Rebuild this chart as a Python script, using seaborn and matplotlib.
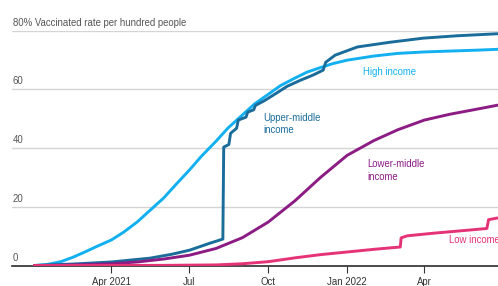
import matplotlib
matplotlib.use("Agg")
import matplotlib.pyplot as plt
import matplotlib.transforms as mtrans
from matplotlib import font_manager
import seaborn as sns
import pandas as pd

# ---- data ----
high_dates = ["2021-01-01", "2021-01-15", "2021-02-01", "2021-02-15", "2021-03-01", "2021-03-15",
              "2021-04-01", "2021-04-15", "2021-05-01", "2021-05-15", "2021-06-01", "2021-06-15",
              "2021-07-01", "2021-07-15", "2021-08-01", "2021-08-15", "2021-09-01", "2021-09-15",
              "2021-10-01", "2021-10-15", "2021-11-01", "2021-11-15", "2021-12-01", "2021-12-15",
              "2022-01-01", "2022-02-01", "2022-03-01", "2022-04-01", "2022-05-01", "2022-06-01",
              "2022-06-26"]
high_vals = [0, 0.3, 1.3, 2.8, 4.6, 6.5, 8.7, 11.3, 14.8, 18.5, 23, 27.5, 32.5, 37.2, 42.3,
             46.8, 51.3, 55, 58.3, 61.2, 63.8, 65.8, 67.4, 68.7, 69.9, 71.3, 72.2, 72.7, 73,
             73.3, 73.6]

upper_dates = ["2021-01-01", "2021-02-15", "2021-04-01", "2021-05-16", "2021-06-10", "2021-07-01",
               "2021-07-25", "2021-08-09", "2021-08-10", "2021-08-16", "2021-08-18", "2021-08-25",
               "2021-08-27", "2021-09-05", "2021-09-07", "2021-09-14", "2021-09-16", "2021-09-27",
               "2021-10-15", "2021-10-23", "2021-11-07", "2021-11-22", "2021-12-04", "2021-12-07",
               "2021-12-18", "2022-01-13", "2022-02-20", "2022-03-31", "2022-05-09", "2022-06-26"]
upper_vals = [0, 0.5, 1.2, 2.5, 3.8, 5.2, 7.6, 9, 40.3, 41.2, 45, 46.7, 49.5, 50.5, 52.2, 53,
              54.5, 56.2, 59.5, 61, 63, 64.8, 66.5, 69.2, 71.6, 74.4, 76, 77.4, 78.2, 78.9]

lower_dates = ["2021-01-01", "2021-02-01", "2021-03-01", "2021-04-01", "2021-05-01", "2021-06-01",
               "2021-07-01", "2021-08-01", "2021-09-01", "2021-10-01", "2021-11-01", "2021-12-01",
               "2022-01-01", "2022-02-01", "2022-03-01", "2022-04-01", "2022-05-01", "2022-06-01",
               "2022-06-26"]
lower_vals = [0, 0.1, 0.3, 0.6, 1.2, 2.2, 3.5, 5.8, 9.5, 14.8, 22, 30, 37.5, 42.5, 46.2, 49.5,
              51.5, 53.2, 54.6]

low_dates = ["2021-01-01", "2021-06-01", "2021-08-01", "2021-09-01", "2021-10-01", "2021-11-01",
             "2021-12-01", "2022-01-01", "2022-02-01", "2022-03-04", "2022-03-05", "2022-03-12",
             "2022-04-12", "2022-05-21", "2022-06-13", "2022-06-15", "2022-06-26"]
low_vals = [0, 0.05, 0.2, 0.6, 1.3, 2.6, 3.7, 4.6, 5.5, 6.3, 9.4, 10.1, 11, 12, 12.6, 15.6, 16.2]

y_ticks = [0, 20, 40, 60, 80]
y_labels = ["0", "20", "40", "60", "80% Vaccinated rate per hundred people"]
x_ticks = ["2021-04-01", "2021-07-01", "2021-10-01", "2022-01-01", "2022-04-01"]
x_labels = ["Apr 2021", "Jul", "Oct", "Jan 2022", "Apr"]

series_names = ["High income", "Upper-middle\nincome", "Lower-middle\nincome", "Low income"]
colors = ["#12b0f0", "#1a6d9b", "#8c1b84", "#e63277"]

# ---- plot ----
sns.set_theme(style="white")

# prefer a condensed face if one is installed
try:
    font_manager.findfont(font_manager.FontProperties(family="Liberation Sans Narrow"),
                          fallback_to_default=False)
    fam, fs = ["Liberation Sans Narrow", "DejaVu Sans"], 7.8
except Exception:
    fam, fs = ["Liberation Sans", "DejaVu Sans"], 6.9
plt.rcParams["font.family"] = fam

fig = plt.figure(figsize=(4.98, 2.86), dpi=100)
ax = fig.add_axes([12 / 498, 1 - 265.5 / 286, 1 - 12 / 498, (265.5 - 30.5) / 286])

for d, v, c in [(high_dates, high_vals, colors[0]), (upper_dates, upper_vals, colors[1]),
                (lower_dates, lower_vals, colors[2]), (low_dates, low_vals, colors[3])]:
    df = pd.DataFrame({"date": pd.to_datetime(d), "value": v})
    sns.lineplot(data=df, x="date", y="value", color=c, lw=2.1, ax=ax, zorder=3)

ax.set_xlim(pd.Timestamp("2020-12-06"), pd.Timestamp("2022-06-26"))
ax.set_ylim(0, 80)
ax.set_xlabel("")
ax.set_ylabel("")

for s in ["top", "right", "left"]:
    ax.spines[s].set_visible(False)
ax.spines["bottom"].set_color("#2b2b2b")
ax.spines["bottom"].set_linewidth(1.2)
ax.spines["bottom"].set_zorder(2)

for yv in y_ticks[1:]:
    ax.axhline(yv, color="#d4d4d4", lw=1.0, zorder=1)

ax.set_yticks([])
trans = mtrans.blended_transform_factory(ax.transAxes, ax.transData)
for yv, lab in zip(y_ticks, y_labels):
    ax.text(0.002, yv + 1.0, lab, transform=trans, ha="left", va="bottom",
            fontsize=fs, color="#555555")

ax.set_xticks(pd.to_datetime(x_ticks))
ax.set_xticklabels(x_labels, fontsize=fs, color="#333333")
ax.tick_params(axis="x", which="major", length=5, width=0.8, color="#333333",
               pad=3, direction="out", bottom=True)

ax.text(pd.Timestamp("2022-01-19"), 65.9, series_names[0], color=colors[0], fontsize=fs,
        ha="left", va="center")
ax.text(pd.Timestamp("2021-09-25"), 48.2, series_names[1], color=colors[1], fontsize=fs,
        ha="left", va="center", linespacing=1.35)
ax.text(pd.Timestamp("2022-01-25"), 32.4, series_names[2], color=colors[2], fontsize=fs,
        ha="left", va="center", linespacing=1.35)
ax.text(pd.Timestamp("2022-04-30"), 8.7, series_names[3], color=colors[3], fontsize=fs,
        ha="left", va="center")

fig.savefig("out.png", dpi=100)
